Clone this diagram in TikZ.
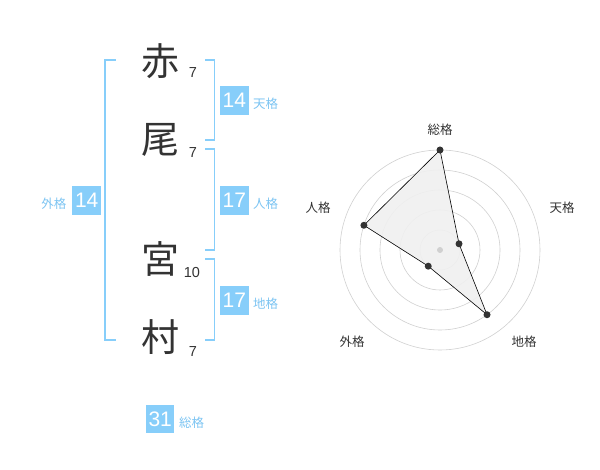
\documentclass[tikz,border=0pt]{standalone}
\usepackage{fontspec}
\setmainfont{Liberation Sans}
\newfontfamily\cjk{Noto Sans CJK JP}
\definecolor{boxblue}{HTML}{87CEFA}
\definecolor{lblblue}{HTML}{7CC4F2}
\definecolor{txtdark}{HTML}{333333}
\definecolor{ringgray}{HTML}{D0D0D0}
\begin{document}
\begin{tikzpicture}[x=1pt,y=-1pt,
  kanji/.style={font=\cjk\fontsize{38}{38}\selectfont,text=txtdark,inner sep=0pt},
  strokenum/.style={font=\fontsize{14.5}{15}\selectfont,text=txtdark,inner sep=0pt},
  numbox/.style={fill=boxblue,text=white,font=\fontsize{21}{21}\selectfont,minimum width=28.5pt,minimum height=28.5pt,inner sep=0pt},
  kaku/.style={font=\cjk\fontsize{12.5}{13}\selectfont,text=lblblue,inner sep=0pt},
  bracket/.style={draw=boxblue,line width=1.6pt},
  radlbl/.style={font=\cjk\fontsize{12.5}{13}\selectfont,text=txtdark,inner sep=0pt},
  ring/.style={draw=ringgray,line width=0.6pt},
  dot/.style={circle,fill=txtdark,inner sep=0pt,minimum size=7pt}]
\useasboundingbox (0,0) rectangle (600,470);
% characters
\node[kanji] (c1) at (160,61) {赤};
\node[kanji] (c2) at (160,140) {尾};
\node[kanji] (c3) at (160,259) {宮};
\node[kanji] (c4) at (160,337) {村};
\node[strokenum] (n1) at (193,72.5) {7};
\node[strokenum] (n2) at (193,153) {7};
\node[strokenum] (n3) at (192,272.5) {10};
\node[strokenum] (n4) at (193,351.5) {7};
% brackets
\draw[bracket] (115.7,60) -- (105,60) -- (105,340) -- (115.7,340);
\draw[bracket] (205,60) -- (214.3,60) -- (214.3,140) -- (205,140);
\draw[bracket] (205,149.3) -- (214.3,149.3) -- (214.3,250) -- (205,250);
\draw[bracket] (205,259.3) -- (214.3,259.3) -- (214.3,340) -- (205,340);
% boxes
\node[numbox] (ten) at (234.3,100.4) {14};
\node[kaku,anchor=west] (tenl) at (253,103.5) {天格};
\node[numbox] (jin) at (234.3,200.4) {17};
\node[kaku,anchor=west] (jinl) at (253,203.5) {人格};
\node[numbox] (chi) at (234.3,300.4) {17};
\node[kaku,anchor=west] (chil) at (253,303.5) {地格};
\node[numbox] (gai) at (86.7,200.4) {14};
\node[kaku,anchor=east] (gail) at (66.5,203.5) {外格};
\node[numbox] (sou) at (160.2,418.8) {31};
\node[kaku,anchor=west] (soul) at (179,422.5) {総格};
% radar
\begin{scope}[shift={(440,250)},yscale=-1]
  \foreach \r in {20,40,60,80,100}{\draw[ring] (0,0) circle[radius=\r];}
  \coordinate (ps) at (90:100);
  \coordinate (pt) at (18:20);
  \coordinate (pc) at (-54:80);
  \coordinate (pg) at (-126:20);
  \coordinate (pj) at (162:80);
  \fill[black!6,opacity=0.9] (ps) -- (pt) -- (pc) -- (pg) -- (pj) -- cycle;
  \draw[black,line width=0.6pt] (ps) -- (pt) -- (pc) -- (pg) -- (pj) -- cycle;
  \node[circle,fill=ringgray,inner sep=0pt,minimum size=6pt] (ctr) at (0,0) {};
  \foreach \p in {ps,pt,pc,pg,pj}{\node[dot] at (\p) {};}
\end{scope}
\node[radlbl] (ls) at (440,130) {総格};
\node[radlbl] (lt) at (562,208) {天格};
\node[radlbl] (lj) at (318,208) {人格};
\node[radlbl] (lg) at (352,342) {外格};
\node[radlbl] (lc) at (524,342) {地格};
\end{tikzpicture}
\end{document}
